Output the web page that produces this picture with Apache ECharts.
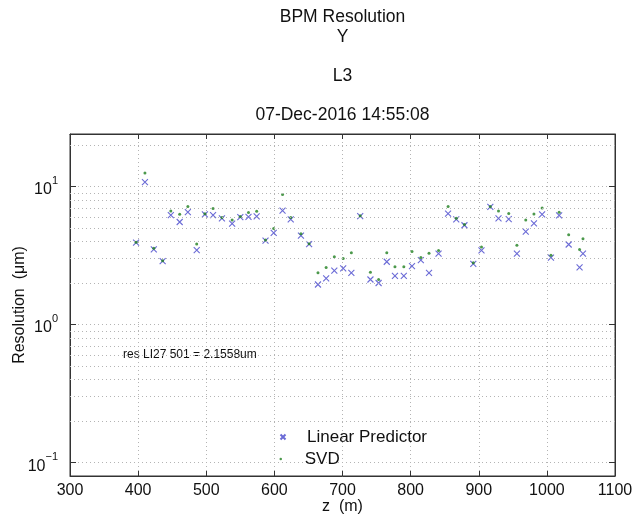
<!DOCTYPE html>
<html><head><meta charset="utf-8">
<script src="https://cdn.jsdelivr.net/npm/echarts@6/dist/echarts.min.js"></script>
<style>html,body{margin:0;padding:0;background:#fff}#c{width:636px;height:517px}</style>
</head><body><div id="c"></div>
<script>
// ---- data ----
const zPositions = [397, 410, 423, 436, 448, 461, 473, 486, 498, 510, 523, 538, 550, 562, 574,
  587, 599, 612, 624, 639, 651, 664, 676, 688, 701, 713, 726, 741, 753, 765, 777, 790, 802, 815,
  827, 841, 855, 867, 879, 892, 904, 917, 929, 944, 956, 969, 981, 993, 1006, 1018, 1032, 1048, 1053];
const linearPredictor = [3.92, 10.75, 3.50, 2.88, 6.21, 5.53, 6.53, 3.46, 6.29, 6.21, 5.87, 5.38, 6.01, 6.03, 6.08,
  4.05, 4.62, 6.68, 5.78, 4.41, 3.83, 1.95, 2.16, 2.46, 2.55, 2.37, 6.11, 2.12, 2.00, 2.85, 2.25, 2.25, 2.65, 2.93,
  2.37, 3.26, 6.37, 5.78, 5.24, 2.75, 3.44, 7.11, 5.87, 5.81, 3.27, 4.71, 5.41, 6.29, 3.05, 6.18, 3.80, 2.60, 3.27];
const svdValues = [3.95, 12.5, 3.57, 2.90, 6.65, 6.29, 7.16, 3.83, 6.35, 6.92, 5.95, 5.71, 6.05, 6.47, 6.61,
  4.10, 4.97, 8.75, 5.95, 4.55, 3.85, 2.37, 2.59, 3.10, 3.01, 3.31, 6.15, 2.39, 2.12, 3.31, 2.62, 2.62, 3.38, 3.06,
  3.29, 3.44, 7.16, 5.90, 5.30, 2.80, 3.64, 7.15, 6.65, 6.37, 3.76, 5.71, 6.32, 6.98, 3.18, 6.50, 4.47, 3.50, 4.19];
const xTicks = [300, 400, 500, 600, 700, 800, 900, 1000, 1100];
const yDecadeExponents = [-1, 0, 1];
const yMinorGrid = [0.2, 0.3, 0.4, 0.5, 0.6, 0.7, 0.8, 0.9, 2, 3, 4, 5, 6, 7, 8, 9, 20];
const titleLines = ['BPM Resolution', 'Y', 'L3', '07-Dec-2016 14:55:08'];
const annotationText = 'res LI27 501 = 2.1558um';
const seriesNames = ['Linear Predictor', 'SVD'];

// ---- styling ----
const FONT = '"Liberation Sans", Arial, Helvetica, sans-serif';
const TXT = '#111';
const AX = '#333';
const GRID = '#b4b4b4';
const BLUE = '#4646cc';
const GREEN = '#1f7f1f';
const gridDash = [1, 3];

const pairs = (ys) => zPositions.map((z, i) => [z, ys[i]]);

function yLabel(v) {
  const e = Math.log10(v);
  const r = Math.round(e);
  if (Math.abs(e - r) > 1e-6 || yDecadeExponents.indexOf(r) < 0) return '';
  return '{b|10}{s|' + (r < 0 ? '\u2212' + Math.abs(r) : r) + '}';
}

const chart = echarts.init(document.getElementById('c'), null, {renderer: 'canvas'});
const titleY = [17, 37, 76, 115];
const commonX = {
  type: 'value', min: xTicks[0], max: xTicks[xTicks.length - 1], interval: 100,
  axisLine: {show: true, onZero: false, lineStyle: {color: AX, width: 1}},
  axisTick: {show: true, inside: true, length: 5, lineStyle: {color: AX}},
};
const commonY = {
  type: 'log', logBase: 10, min: 0.08, max: 24, splitNumber: 2,
  axisLine: {show: true, onZero: false, lineStyle: {color: AX, width: 1}},
  axisTick: {show: true, inside: true, length: 6, lineStyle: {color: AX}},
};

chart.setOption({
  animation: false,
  backgroundColor: '#fff',
  textStyle: {fontFamily: FONT},
  grid: {left: 70, right: 21, top: 134, bottom: 41, containLabel: false, outerBoundsMode: 'none',
    show: true, borderColor: AX, borderWidth: 1, backgroundColor: 'rgba(0,0,0,0)'},
  xAxis: [
    Object.assign({}, commonX, {
      position: 'bottom',
      name: 'z  (m)', nameLocation: 'middle', nameGap: 23, nameMoveOverlap: false,
      nameTextStyle: {fontSize: 16, color: TXT, fontFamily: FONT},
      axisLabel: {show: true, fontSize: 16, color: TXT, margin: 7, fontFamily: FONT, formatter: v => String(v)},
      splitLine: {show: true, lineStyle: {color: GRID, type: gridDash, width: 1}}
    }),
    Object.assign({}, commonX, {
      position: 'top', axisLabel: {show: false}, splitLine: {show: false}
    })
  ],
  yAxis: [
    Object.assign({}, commonY, {
      position: 'left',
      name: 'Resolution  (\u03bcm)', nameLocation: 'middle', nameGap: 42, nameMoveOverlap: false,
      nameTextStyle: {fontSize: 16, color: TXT, fontFamily: FONT},
      axisLabel: {
        show: true, margin: 12, color: TXT, fontFamily: FONT, formatter: yLabel,
        rich: {
          b: {fontSize: 16, color: TXT, fontFamily: FONT, padding: [7, 0, 0, 0]},
          s: {fontSize: 11, color: TXT, fontFamily: FONT, verticalAlign: 'top'}
        }
      },
      splitLine: {show: true, lineStyle: {color: GRID, type: gridDash, width: 1}}
    }),
    Object.assign({}, commonY, {
      position: 'right', axisLabel: {show: false}, splitLine: {show: false}
    })
  ],
  legend: [
    {
      data: [seriesNames[0]], orient: 'vertical', left: 279.5, top: 428,
      itemWidth: 38, itemHeight: 5, padding: 0, itemGap: 0, selectedMode: false,
      textStyle: {fontSize: 17, color: TXT, fontFamily: FONT, lineHeight: 18}
    },
    {
      data: [seriesNames[1]], orient: 'vertical', left: 279.5, top: 450,
      itemWidth: 38, itemHeight: 2.5, padding: 0, itemGap: 0, selectedMode: false,
      textStyle: {fontSize: 17, color: TXT, fontFamily: FONT, lineHeight: 18}
    }
  ],
  graphic: titleLines.map((t, i) => ({
    type: 'text', x: 342.5, y: titleY[i], silent: true,
    style: {text: t, fontSize: 17.5, fontFamily: FONT, fill: TXT, align: 'center', verticalAlign: 'middle'}
  })).concat([{
    type: 'text', x: 123, y: 355, silent: true,
    style: {text: annotationText, fontSize: 12, fontFamily: FONT, fill: TXT, align: 'left', verticalAlign: 'middle'}
  }]),
  series: [
    {
      name: '__minorGrid', type: 'line', data: [], xAxisIndex: 0, yAxisIndex: 0, z: 0,
      markLine: {
        silent: true, symbol: ['none', 'none'], animation: false,
        label: {show: false},
        lineStyle: {color: GRID, type: gridDash, width: 1},
        emphasis: {disabled: true},
        data: yMinorGrid.map(v => ({yAxis: v}))
      }
    },
    {
      name: seriesNames[0], type: 'scatter', data: pairs(linearPredictor), z: 3,
      symbol: 'path://M0,0L10,10M10,0L0,10', symbolSize: 6,
      itemStyle: {color: 'rgba(0,0,0,0)', borderColor: BLUE, borderWidth: 1.1},
      emphasis: {disabled: true}
    },
    {
      name: seriesNames[1], type: 'scatter', data: pairs(svdValues), z: 4,
      symbol: 'circle', symbolSize: 3,
      itemStyle: {color: GREEN},
      emphasis: {disabled: true}
    }
  ]
});
</script>
</body></html>
